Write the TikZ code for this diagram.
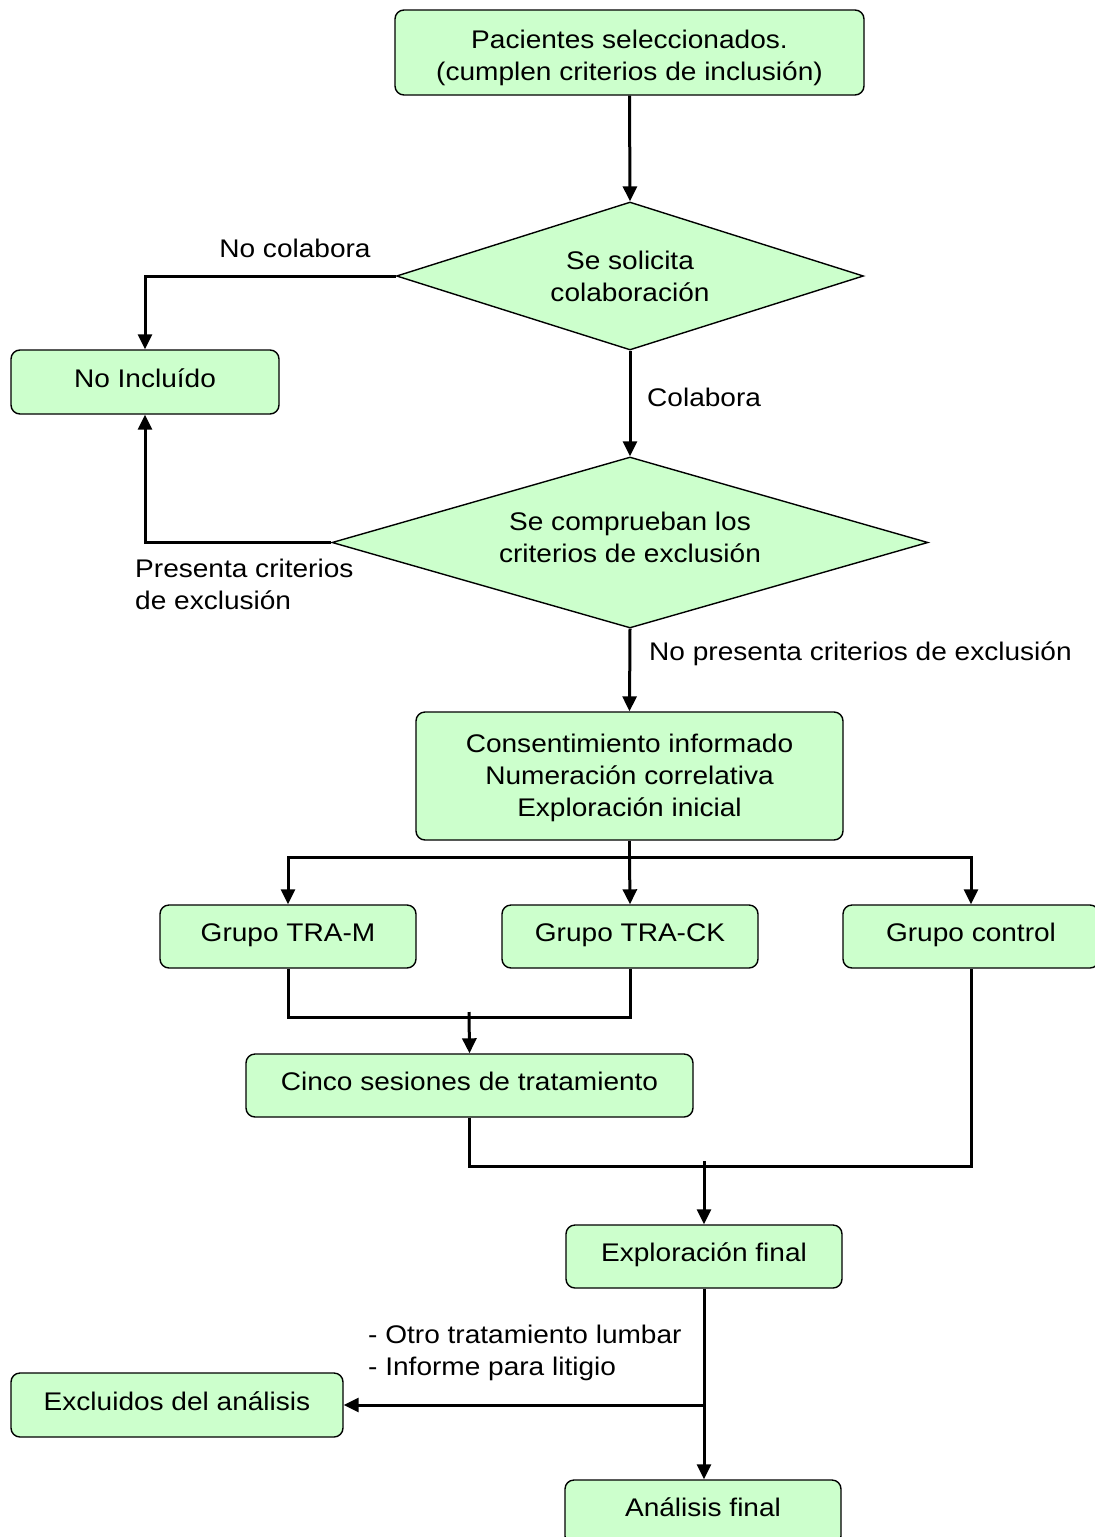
\documentclass[tikz,border=0pt]{standalone}
\usepackage{fontspec}
\setmainfont[FakeStretch=1.1]{Liberation Sans}
\usetikzlibrary{shapes.geometric,arrows.meta}
\definecolor{boxgreen}{HTML}{CCFFCC}
\newcommand{\mylines}[1]{\begin{tabular}[t]{@{}c@{}}#1\end{tabular}}
\tikzset{
  txt/.style={font=\fontsize{25.5}{32}\selectfont, inner sep=0pt},
  bl/.style={text height=20pt, text depth=#1},
  box/.style={txt, rectangle, rounded corners=9pt, draw=black, line width=1.4pt, fill=boxgreen},
  dec/.style={txt, diamond, draw=black, line width=1.4pt, fill=boxgreen},
  conn/.style={line width=3pt},
  arr/.style={conn, -{Triangle[length=15pt,width=14pt]}},
  lbl/.style={txt, align=left}
}
\begin{document}
\begin{tikzpicture}[x=1pt,y=-1pt]
\useasboundingbox (0,0) rectangle (1095,1537);
% nodes
\node[box, bl=29pt, minimum width=469, minimum height=85] (top) at (629.5,52.5) {\mylines{Pacientes seleccionados.\\(cumplen criterios de inclusión)}};
\node[dec, bl=34pt, minimum width=467, minimum height=148, aspect=3.15] (d1) at (630,276) {\mylines{Se solicita\\colaboración}};
\node[box, bl=10pt, minimum width=268, minimum height=64] (noinc) at (145,382) {No Incluído};
\node[dec, bl=45pt, minimum width=596, minimum height=171, aspect=3.49] (d2) at (630,542.5) {\mylines{Se comprueban los\\criterios de exclusión}};
\node[box, bl=68pt, minimum width=427, minimum height=128] (cons) at (629.5,776) {\mylines{Consentimiento informado\\Numeración correlativa\\Exploración inicial}};
\node[box, bl=11pt, minimum width=256, minimum height=63] (tram) at (288,936.5) {Grupo TRA-M};
\node[box, bl=11pt, minimum width=256, minimum height=63] (track) at (630,936.5) {Grupo TRA-CK};
\node[box, bl=11pt, minimum width=256, minimum height=63] (grc) at (971,936.5) {Grupo control};
\node[box, bl=11pt, minimum width=447, minimum height=63] (cinco) at (469.5,1085.5) {Cinco sesiones de tratamiento};
\node[box, bl=11pt, minimum width=276, minimum height=63] (expf) at (704,1256.5) {Exploración final};
\node[box, bl=10pt, minimum width=332, minimum height=64] (excl) at (177,1405) {Excluidos del análisis};
\node[box, bl=13pt, minimum width=276, minimum height=65] (anal) at (703,1512.5) {Análisis final};
% labels
\node[txt] (lnocol) at (295,248) {No colabora};
\node[lbl, anchor=west] (lcol) at (647,397) {Colabora};
\node[lbl, anchor=west] (lpres) at (135,584) {Presenta criterios\\de exclusión};
\node[lbl, anchor=west] (lnopres) at (649,654) {No presenta criterios de exclusión};
\node[lbl, anchor=west] (lotro) at (368,1353) {- Otro tratamiento lumbar\\- Informe para litigio};
% junction coordinates
\coordinate (b1) at (629.5,857);
\coordinate (m1) at (469,1017);
\coordinate (m2) at (704,1166);
\coordinate (m3) at (704,1405);
% connectors
\draw[arr] (top.south) -- (d1.north);
\draw[arr] (d1.west) -| (noinc.north);
\draw[arr] (d1.south) -- (d2.north);
\draw[arr] (d2.west) -| (noinc.south);
\draw[arr] (d2.south) -- (cons.north);
\draw[conn] (cons.south) -- (b1);
\draw[arr] (b1) -| (tram.north);
\draw[arr] (b1) -| (grc.north);
\draw[arr] (b1) -- (track.north);
\draw[conn] (tram.south) |- (m1) -| (track.south);
\draw[arr] ([yshift=5pt]m1) -- (cinco.north);
\draw[conn] (cinco.south) |- (m2) -| (grc.south);
\draw[arr] ([yshift=5pt]m2) -- (expf.north);
\draw[arr] (expf.south) -- (anal.north -| expf.south);
\draw[arr] (m3) -- (excl.east);
\end{tikzpicture}
\end{document}
